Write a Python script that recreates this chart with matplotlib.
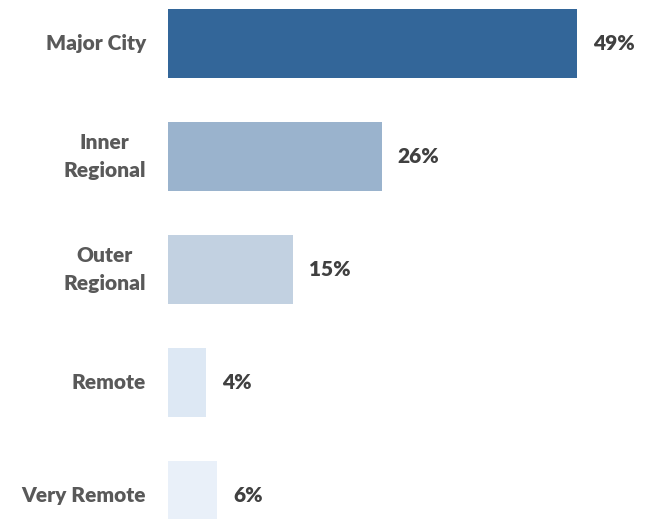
import numpy as np
import matplotlib.pyplot as plt

# 数据
categories = ['Major City', 'Inner\nRegional', 'Outer\nRegional', 'Remote', 'Very Remote']
values = [49, 25.6, 15, 4.5, 5.9]
value_labels = ['49%', '26%', '15%', '4%', '6%']
colors = ['#336699', '#9AB3CD', '#C2D1E1', '#DDE8F4', '#E9F0F9']

plt.rcParams['font.family'] = ['Lato', 'DejaVu Sans']

fig = plt.figure(figsize=(6.54, 5.19), dpi=100)
ax = fig.add_axes([0.257, 0, 0.743, 1])

y = np.arange(len(categories))
ax.barh(y, values, height=0.61, color=colors)

# 数值标签
for yi, v, lab in zip(y, values, value_labels):
    ax.annotate(lab, (v, yi), xytext=(11.5, 0), textcoords='offset points',
                ha='left', va='center', fontsize=15, fontweight='heavy', color='#404040')

ax.set_xlim(0, 58.2)
ax.set_ylim(4.208, -0.385)
ax.set_yticks(y)
ax.set_yticklabels(categories, fontsize=15, fontweight='heavy', color='#595959', linespacing=1.6)
for lbl in ax.get_yticklabels():
    lbl.set_multialignment('center')
    lbl.set_va('center')
ax.tick_params(axis='y', length=0, pad=16)
ax.set_xticks([])
for s in ax.spines.values():
    s.set_visible(False)

fig.savefig('out.png', dpi=100)
